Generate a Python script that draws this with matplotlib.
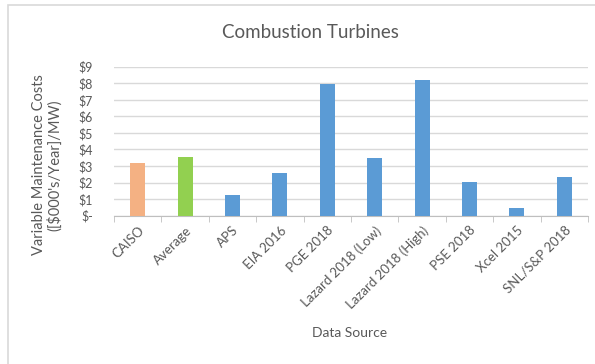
import matplotlib.pyplot as plt
from matplotlib.patches import Rectangle

sources = ["CAISO", "Average", "APS", "EIA 2016", "PGE 2018", "Lazard 2018 (Low)",
           "Lazard 2018 (High)", "PSE 2018", "Xcel 2015", "SNL/S&P 2018"]
costs = [3.20, 3.56, 1.25, 2.60, 7.95, 3.46, 8.21, 2.05, 0.44, 2.32]
colors = ["#F4B183", "#92D050"] + ["#5B9BD5"] * 8
yticks = [0, 1, 2, 3, 4, 5, 6, 7, 8, 9]
ytick_labels = ["$-"] + ["$%d" % v for v in yticks[1:]]

plt.rcParams['font.family'] = ['Lato', 'DejaVu Sans']
txt = "#595959"

fig = plt.figure(figsize=(5.95, 3.64), dpi=100)
fig.patches.append(Rectangle((8/595, -0.1), 1.2, 1.1 - 5/364, transform=fig.transFigure,
                             fill=False, edgecolor="#D9D9D9", linewidth=1.2))
ax = fig.add_axes([114/595, 1 - 215.7/364, 474/595, 149/364])

x = range(len(sources))
ax.bar(x, costs, width=0.32, color=colors, zorder=3)
ax.set_xlim(-0.5, len(sources) - 0.5)
ax.set_ylim(0, 9)
ax.set_yticks(yticks)
ax.set_yticklabels(ytick_labels, color=txt, fontsize=9)
ax.grid(axis="y", color="#D9D9D9", linewidth=1, zorder=0)
ax.tick_params(axis="y", length=0, pad=15)

ax.set_xticks(list(x))
ax.set_xticklabels(sources, rotation=45, ha="right", rotation_mode="anchor",
                   color=txt, fontsize=9.5)
ax.tick_params(axis="x", length=0, pad=6)
# category boundary ticks
ax.set_xticks([i - 0.5 for i in range(len(sources) + 1)], minor=True)
ax.tick_params(axis="x", which="minor", length=4, color="#BFBFBF")

for s in ["top", "right", "left"]:
    ax.spines[s].set_visible(False)
ax.spines["bottom"].set_color("#BFBFBF")

fig.text(310/595, 1 - 33/364, "Combustion Turbines", color=txt, fontsize=13.5,
         ha="center", va="center")
fig.text(350/595, 1 - 333/364, "Data Source", color=txt, fontsize=10,
         ha="center", va="center")
fig.text(47/595, 1 - 165/364, "Variable Maintenance Costs\n([$000's/Year]/MW)", color=txt,
         fontsize=10.5, ha="center", va="center", rotation=90, linespacing=1.1)

fig.savefig("out.png", dpi=100)
